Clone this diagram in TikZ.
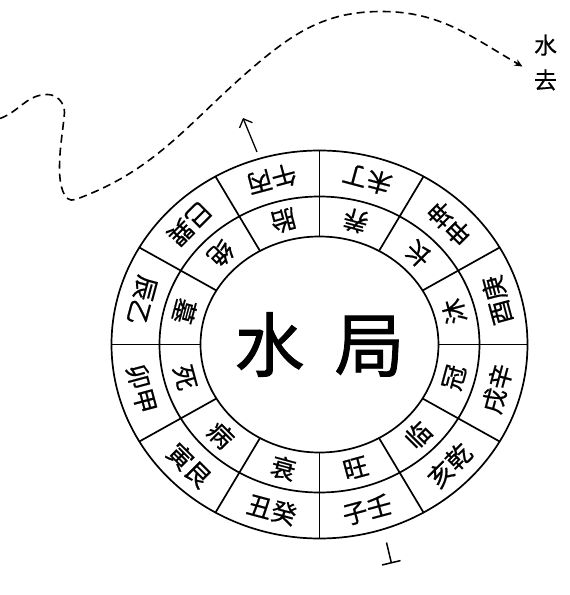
\documentclass[tikz,border=0pt]{standalone}
\usepackage{fontspec}
\newfontfamily\cjk[FakeBold=0.6]{Noto Sans CJK SC}
\newfontfamily\cjkbig[FakeBold=1.2]{Noto Sans CJK SC}
\usetikzlibrary{arrows.meta}

\begin{document}
\begin{tikzpicture}[
  x=1pt, y=1pt,
  ring/.style={line width=1.7pt},
  mount/.style={font=\cjk\fontsize{25}{25}\selectfont, inner sep=0pt},
  stage/.style={font=\cjk\fontsize{25}{25}\selectfont, inner sep=0pt},
  water/.style={line width=1.6pt, dash pattern=on 8pt off 5pt, -{Stealth[length=8pt, width=7pt]}},
  arrow/.style={line width=1.3pt, -{Straight Barb[length=7pt]}}
]
  \useasboundingbox (-319.5,-250.5) rectangle (250.5,344.5);

  \draw[ring] (0,0) ellipse [x radius=208, y radius=194];
  \draw[ring] (0,0) ellipse [x radius=160, y radius=148];
  \draw[ring] (0,0) ellipse [x radius=119, y radius=108];
  \foreach \a in {0,30,...,330}
    \draw[ring] ({119*cos(\a)},{108*sin(\a)}) -- ({208*cos(\a)},{194*sin(\a)});

  \node[font=\cjkbig\fontsize{70}{70}\selectfont, inner sep=0pt] (ju) at (0,0) {水\hspace{30pt}局};

  \foreach \a/\mt/\st [count=\i] in {15/酉庚/沐, 45/申坤/长, 75/未丁/养, 105/午丙/胎,
      135/巳巽/绝, 165/辰乙/墓, 195/卯甲/死, 225/寅艮/病, 255/丑癸/衰, 285/子壬/旺,
      315/亥乾/临, 345/戌辛/冠} {
    \node[mount, rotate=\a+90] (m\i) at ({184*cos(\a)},{171*sin(\a)}) {\mt};
    \node[stage, rotate=\a+90] (s\i) at ({139.5*cos(\a)},{128*sin(\a)}) {\st};
  }

  \node[font=\cjk\fontsize{23}{35}\selectfont, align=center, inner sep=0pt] (qu) at (226,282) {水\\去};

  \coordinate (wIn) at (-319.5,226);
  \coordinate (wOut) at (203,278);
  \draw[water] (wIn) to[out=20,in=180] (-272,250) to[out=0,in=90] (-255,232)
    to[out=-95,in=90] (-260,175) to[out=-90,in=200] (-244,145)
    to[out=20,in=220] (-62,281) to[out=40,in=180] (62,333) to[out=0,in=150] (wOut);

  \coordinate (src) at (-62.5,192.5);
  \coordinate (dst) at (-76.5,226.5);
  \draw[arrow] (src) -- (dst);

  \coordinate (inA) at (67,-198);
  \coordinate (inB) at (72,-219);
  \draw[line width=1.5pt, -{Bar[width=19pt]}] (inA) -- (inB);
\end{tikzpicture}
\end{document}
